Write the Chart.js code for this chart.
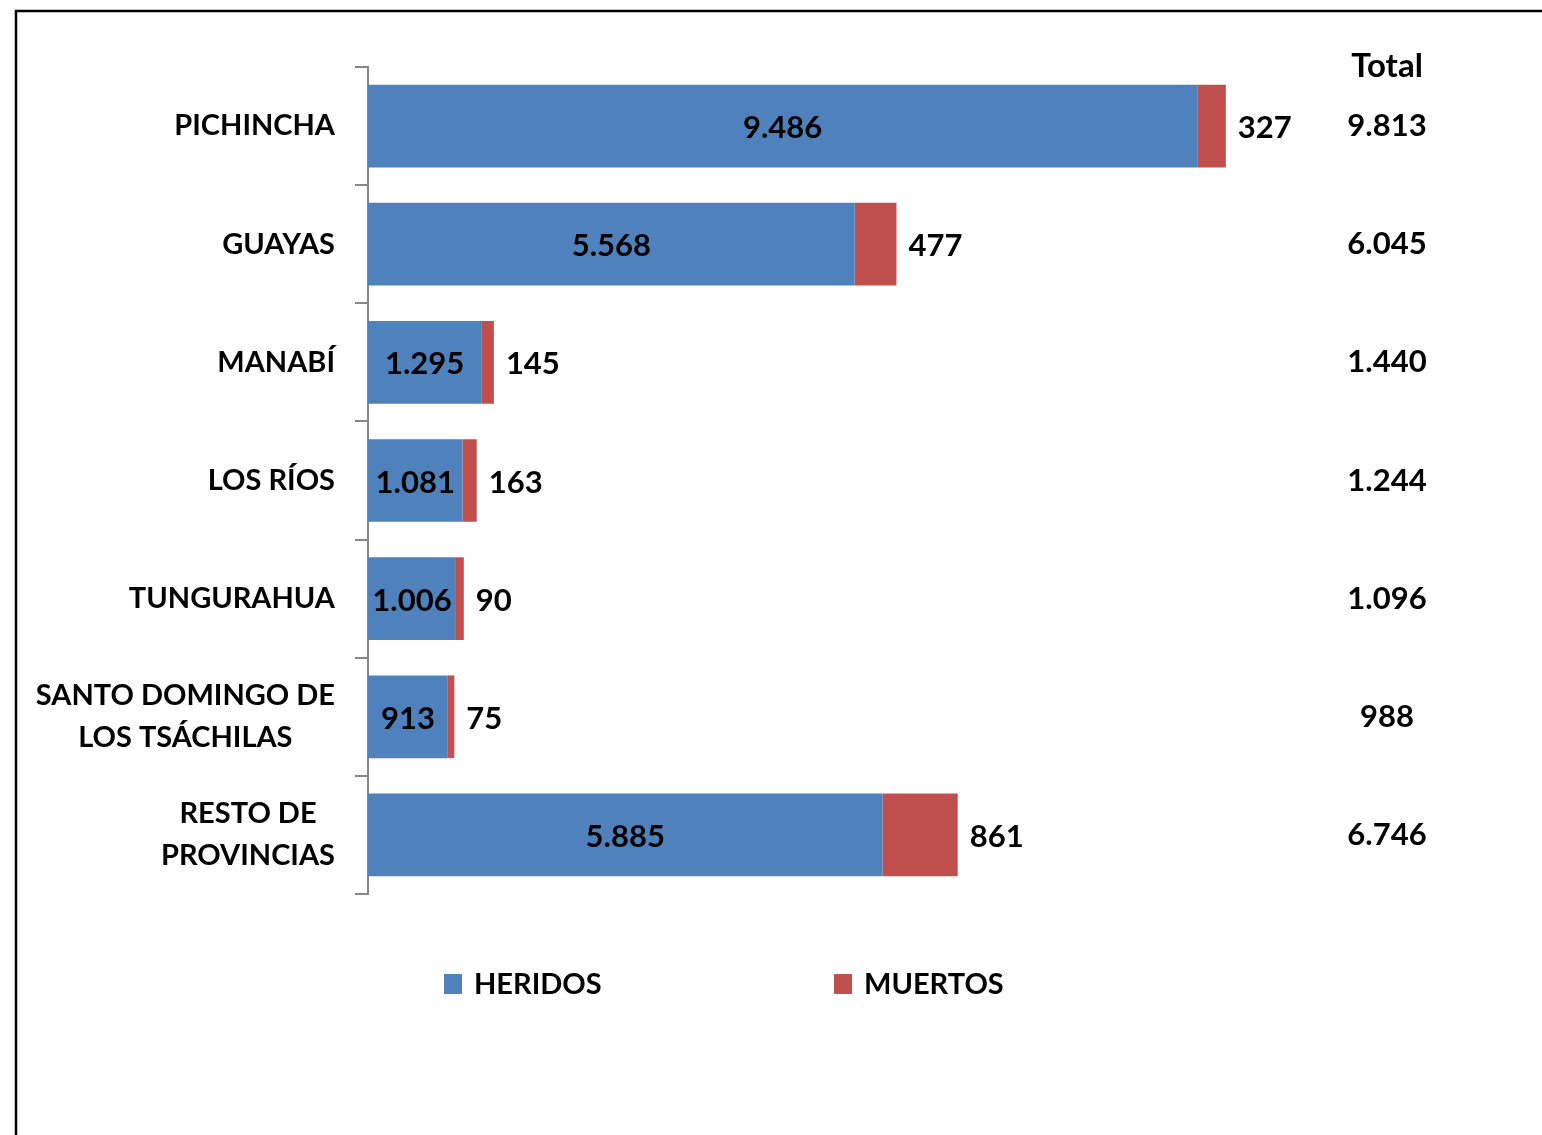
<!DOCTYPE html>
<html lang="es">
<head>
<meta charset="UTF-8">
<title>Heridos y muertos por provincia</title>
<script src="https://cdn.jsdelivr.net/npm/chart.js"></script>
<style>
  html, body { margin: 0; padding: 0; background: #fff; overflow: hidden; }
  #wrap { width: 1542px; height: 1135px; position: relative; }
</style>
</head>
<body>
<div id="wrap"><canvas id="myChart" width="1542" height="1135"></canvas></div>

<script>
// provincias (multi-line labels as arrays)
const provincias = [
  'PICHINCHA',
  'GUAYAS',
  'MANABÍ',
  'LOS RÍOS',
  'TUNGURAHUA',
  ['SANTO DOMINGO DE', 'LOS TSÁCHILAS'],
  ['RESTO DE', 'PROVINCIAS']
];
const heridos = [9486, 5568, 1295, 1081, 1006, 913, 5885];
const muertos = [327, 477, 145, 163, 90, 75, 861];
const series = ['HERIDOS', 'MUERTOS'];
const colores = ['#4F81BD', '#C0504D'];

const LABEL_FONT = 'bold 29px Lato';
const NUM_FONT = 'bold 31px Lato';
const fmt = n => String(n).replace(/\B(?=(\d{3})+(?!\d))/g, '.');

// frame, category labels, value labels, totals and legend
const extras = {
  id: 'extras',
  afterDraw(chart) {
    const ctx = chart.ctx;
    const y = chart.scales.y;
    ctx.save();

    // outer frame (left and top edges visible)
    ctx.strokeStyle = '#000';
    ctx.lineWidth = 2.5;
    ctx.strokeRect(16, 11, 1700, 1300);

    ctx.fillStyle = '#000';
    ctx.font = LABEL_FONT;
    ctx.textBaseline = 'middle';

    // category labels, each block centred on its own widest line, right edge at 335
    provincias.forEach((lab, i) => {
      const lines = Array.isArray(lab) ? lab : [lab];
      const widest = Math.max(...lines.map(l => ctx.measureText(l).width));
      const cy = y.getPixelForValue(i);
      const lh = 42;
      ctx.textAlign = 'center';
      lines.forEach((l, k) => {
        ctx.fillText(l, 335 - widest / 2, cy + (k - (lines.length - 1) / 2) * lh);
      });
    });

    // legend
    const legendX = [444, 834];
    series.forEach((s, i) => {
      ctx.fillStyle = colores[i];
      ctx.fillRect(legendX[i], 974, 18, 20);
      ctx.fillStyle = '#000';
      ctx.textAlign = 'left';
      ctx.fillText(s, legendX[i] + 30, 985);
    });

    ctx.font = NUM_FONT;

    // values inside blue bars
    const m0 = chart.getDatasetMeta(0);
    ctx.textAlign = 'center';
    m0.data.forEach((bar, i) => {
      ctx.fillText(fmt(heridos[i]), (bar.x + bar.base) / 2, bar.y + 2);
    });

    // values right of red bars
    const m1 = chart.getDatasetMeta(1);
    ctx.textAlign = 'left';
    m1.data.forEach((bar, i) => {
      ctx.fillText(fmt(muertos[i]), bar.x + 12, bar.y + 2);
    });

    // totals column
    ctx.textAlign = 'center';
    heridos.forEach((h, i) => {
      ctx.fillText(fmt(h + muertos[i]), 1387, y.getPixelForValue(i));
    });
    ctx.font = 'bold 33px Lato';
    ctx.fillText('Total', 1387, 66);

    ctx.restore();
  }
};

const ctx = document.getElementById('myChart').getContext('2d');
new Chart(ctx, {
  type: 'bar',
  data: {
    labels: provincias,
    datasets: [
      { label: series[0], data: heridos, backgroundColor: colores[0], borderWidth: 0 },
      { label: series[1], data: muertos, backgroundColor: colores[1], borderWidth: 0 }
    ]
  },
  options: {
    indexAxis: 'y',
    responsive: false,
    animation: false,
    barPercentage: 0.7,
    categoryPercentage: 1,
    layout: { padding: { top: 67, bottom: 241, left: 0, right: 125 } },
    plugins: {
      legend: { display: false },
      tooltip: { enabled: false }
    },
    scales: {
      x: { stacked: true, display: false, min: 0, max: 12000 },
      y: {
        stacked: true,
        afterFit(scale) { scale.width = 368; },
        border: { display: true, color: '#868686', width: 2 },
        grid: {
          offset: true,
          drawOnChartArea: false,
          drawTicks: true,
          tickLength: 13,
          color: '#868686',
          lineWidth: 2
        },
        ticks: { display: false }
      }
    }
  },
  plugins: [extras]
});
</script>
</body>
</html>
